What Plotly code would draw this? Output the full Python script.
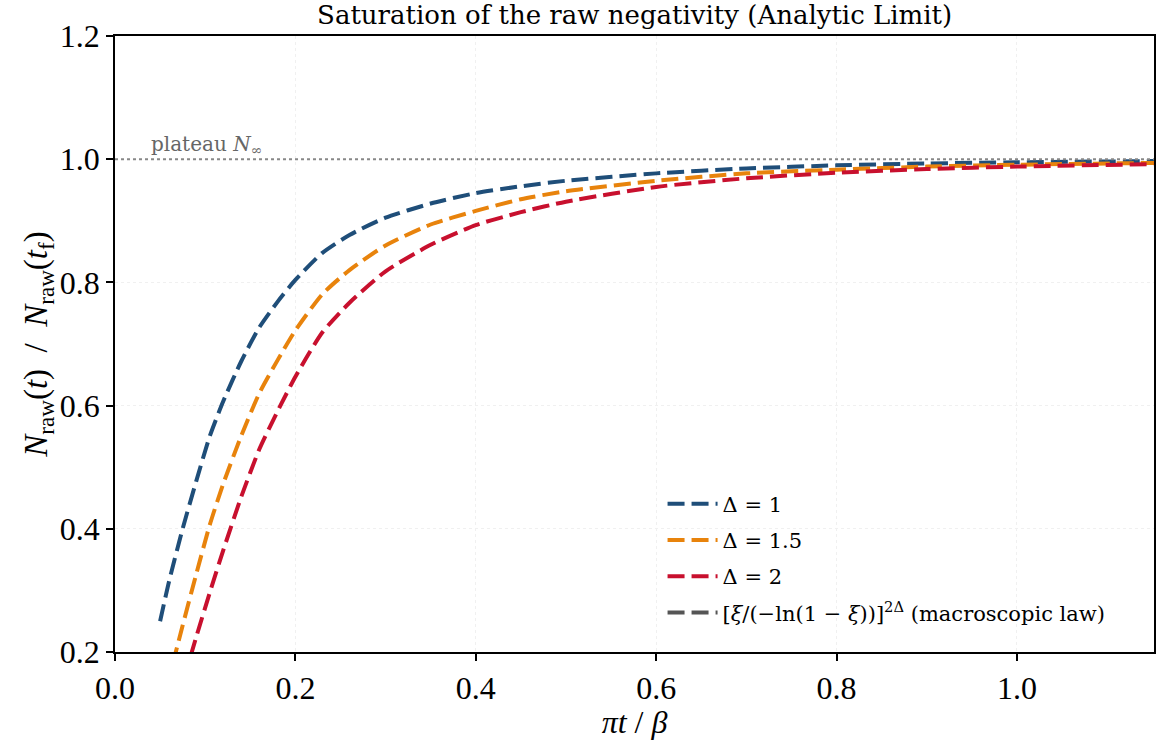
import plotly.graph_objects as go

# ---- data ----
x_vals = [0.05, 0.06, 0.075, 0.09, 0.105, 0.12, 0.14, 0.16, 0.18, 0.20, 0.23, 0.26,
          0.30, 0.35, 0.40, 0.45, 0.50, 0.60, 0.70, 0.80, 0.90, 1.00, 1.152]
y_delta1 = [0.250, 0.315, 0.400, 0.477, 0.550, 0.607, 0.672, 0.727, 0.768, 0.804, 0.848, 0.877,
            0.905, 0.928, 0.945, 0.956, 0.965, 0.977, 0.985, 0.990, 0.993, 0.995, 0.997]
y_delta15 = [0.105, 0.158, 0.243, 0.326, 0.406, 0.473, 0.551, 0.620, 0.673, 0.722, 0.781, 0.820,
             0.860, 0.894, 0.916, 0.935, 0.948, 0.965, 0.977, 0.983, 0.988, 0.991, 0.994]
y_delta2 = [0.045, 0.085, 0.150, 0.224, 0.296, 0.365, 0.452, 0.529, 0.590, 0.647, 0.719, 0.767,
            0.818, 0.861, 0.893, 0.914, 0.931, 0.955, 0.969, 0.978, 0.984, 0.988, 0.992]
series_names = ["Δ = 1", "Δ = 1.5", "Δ = 2"]
series_colors = ["#1F4E79", "#E8830C", "#C8102E"]
law_name = "[<i>ξ</i>/(−ln(1 − <i>ξ</i>))]<sup>2Δ</sup> (macroscopic law)"
plateau_level = 1.0
x_ticks = [0.0, 0.2, 0.4, 0.6, 0.8, 1.0]
y_ticks = [0.2, 0.4, 0.6, 0.8, 1.0, 1.2]

DASH = "17px,7px"
fig = go.Figure()

for i, (name, ys, col) in enumerate(zip(series_names, [y_delta1, y_delta15, y_delta2], series_colors)):
    fig.add_trace(go.Scatter(
        x=x_vals, y=ys, mode="lines", name=name, legendgroup=f"g{i}",
        line=dict(color=col, width=4, dash=DASH, shape="spline", smoothing=0.6),
    ))

# legend-only entry for the macroscopic law
fig.add_trace(go.Scatter(
    x=[None], y=[None], mode="lines", name=law_name, legendgroup="g3",
    line=dict(color="#555555", width=4, dash=DASH),
))

# plateau line
fig.add_trace(go.Scatter(
    x=[0, 1.152], y=[plateau_level, plateau_level], mode="lines", showlegend=False,
    line=dict(color="#888888", width=2, dash="dot"), hoverinfo="skip",
))

fig.add_annotation(
    x=0.038, y=plateau_level, xref="x", yref="y", xanchor="left", yanchor="bottom",
    text="plateau <i>N</i><sub>∞</sub>", showarrow=False, yshift=-1,
    font=dict(family="DejaVu Serif", size=20, color="#666666"),
)

axis_common = dict(
    showline=True, linecolor="black", linewidth=1.6, mirror=True,
    ticks="outside", ticklen=7, tickwidth=1.6, tickcolor="black",
    showgrid=True, gridcolor="#f0f0f0", gridwidth=1, griddash="dot",
    zeroline=False, tickformat=".1f", automargin=False,
    tickfont=dict(family="Liberation Serif", size=32, color="black"),
)

fig.update_xaxes(
    range=[0, 1.152], tickvals=x_ticks, **axis_common,
    title=dict(text="<i>πt</i> / <i>β</i>", font=dict(family="Liberation Serif", size=32, color="black"),
               standoff=2),
)
fig.update_yaxes(
    range=[0.2, 1.2], tickvals=y_ticks, **axis_common,
    title=dict(text="<i>N</i><sub>raw</sub>(<i>t</i>)  /  <i>N</i><sub>raw</sub>(<i>t</i><sub>f</sub>)",
               font=dict(family="Liberation Serif", size=33, color="black"), standoff=2),
)

fig.update_layout(
    width=1156, height=740,
    margin=dict(l=115, r=2, t=36, b=88),
    paper_bgcolor="white", plot_bgcolor="white",
    title=dict(text="Saturation of the raw negativity (Analytic Limit)",
               x=0.549, xanchor="center", y=0.98, yanchor="middle",
               font=dict(family="DejaVu Serif", size=26, color="black")),
    legend=dict(x=0.527, y=0.03, xanchor="left", yanchor="bottom",
                bgcolor="rgba(255,255,255,0)", borderwidth=0,
                font=dict(family="DejaVu Serif", size=21, color="black"),
                tracegroupgap=6, itemwidth=50),
    showlegend=True,
)

fig.write_html("out.html",
               config={"displayModeBar": False},
               post_script="document.body.style.margin='0';document.body.style.overflow='hidden';")
